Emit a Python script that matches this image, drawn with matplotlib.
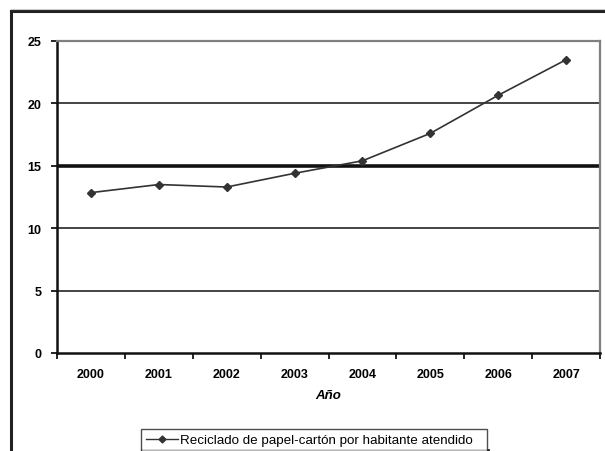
import matplotlib
matplotlib.use("Agg")
import matplotlib.pyplot as plt
from matplotlib.lines import Line2D

years = ["2000", "2001", "2002", "2003", "2004", "2005", "2006", "2007"]
values = [12.85, 13.5, 13.3, 14.4, 15.4, 17.6, 20.65, 23.5]
yticks = [0, 5, 10, 15, 20, 25]
series_label = "Reciclado de papel-cartón por habitante atendido"
xlabel = "Año"

plt.rcParams['font.family'] = ['Liberation Sans', 'DejaVu Sans']

W, H = 605, 452
fig = plt.figure(figsize=(W / 100, H / 100), dpi=100)

# outer chart border (partially visible)
fig.add_artist(Line2D([11 / W, 11 / W], [0, 1 - 12 / H], transform=fig.transFigure,
                      color='#222222', lw=2.2))
fig.add_artist(Line2D([11 / W, 1], [1 - 12 / H, 1 - 12 / H], transform=fig.transFigure,
                      color='#222222', lw=2.2))
fig.add_artist(Line2D([11 / W, 1], [1 - 10 / H, 1 - 10 / H], transform=fig.transFigure,
                      color='#cccccc', lw=0.8))

ax = fig.add_axes([57 / W, (H - 354) / H, 543 / W, 312 / H])
x = list(range(len(years)))
ax.set_xlim(-0.5, len(years) - 0.5)
ax.set_ylim(0, 25)

for v in yticks[1:-1]:
    ax.axhline(v, color='#111111', lw=2.6 if v == 15 else 1.1, zorder=1)

ax.plot(x, values, color='#333333', lw=1.2, marker='D', markersize=4.5,
        markerfacecolor='#333333', markeredgecolor='#333333', zorder=3)

for side in ['top', 'right']:
    ax.spines[side].set_color('#808080')
    ax.spines[side].set_linewidth(1.6)
ax.spines['left'].set_color('#111111')
ax.spines['left'].set_linewidth(1.8)
ax.spines['bottom'].set_color('#111111')
ax.spines['bottom'].set_linewidth(1.8)

ax.set_yticks(yticks)
ax.set_yticklabels([str(v) for v in yticks], fontsize=9, fontweight='bold')
ax.set_xticks([i - 0.5 for i in range(len(years) + 1)])
ax.set_xticklabels([])
ax.set_xticks(x, minor=True)
ax.set_xticklabels(years, minor=True, fontsize=9, fontweight='bold')
ax.tick_params(axis='x', which='minor', length=0, pad=11)
ax.tick_params(axis='x', which='major', length=4, width=1.2, direction='out')
ax.tick_params(axis='y', length=4, width=1.2, direction='out', pad=7)
ax.set_xlabel(xlabel, fontsize=9.5, fontweight='bold', style='italic', labelpad=6)

handle = Line2D([], [], color='#333333', lw=1.0, marker='D', markersize=3.5,
                markerfacecolor='#333333')
leg = fig.legend([handle], [series_label], loc='lower left',
                 bbox_to_anchor=(141 / W, 0 / H, 346 / W, 29 / H),
                 mode='expand', fontsize=9.6, frameon=True, fancybox=False,
                 shadow=False, handlelength=2.4, handletextpad=0.15,
                 borderpad=0.35, borderaxespad=0)
leg.get_frame().set_edgecolor('#222222')
leg.get_frame().set_linewidth(1.0)
fig.add_artist(Line2D([142 / W, 488 / W], [1.2 / H, 1.2 / H], transform=fig.transFigure,
                      color='#222222', lw=2.0))

fig.savefig("out.png", dpi=100)
